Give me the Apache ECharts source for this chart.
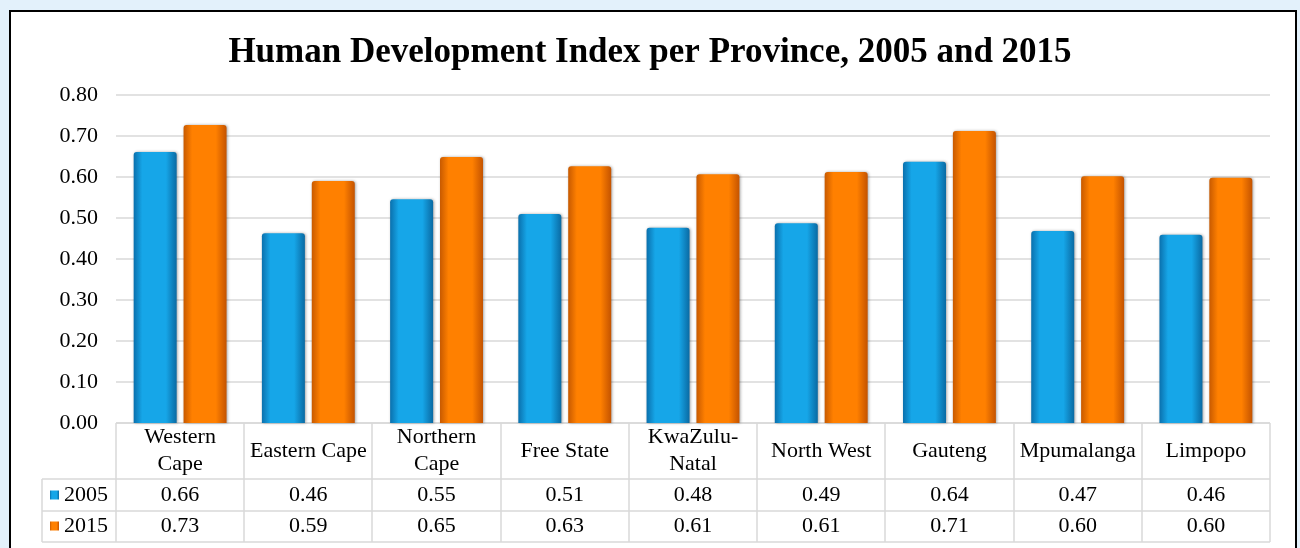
<!DOCTYPE html>
<html>
<head>
<meta charset="utf-8">
<script src="https://cdn.jsdelivr.net/npm/echarts@6/dist/echarts.min.js"></script>
<style>
  html, body { margin: 0; padding: 0; background: #e3f1fb; }
  #chart { width: 1300px; height: 548px; }
</style>
</head>
<body>
<div id="chart"></div>
<script>
// 数据
var provinces = ['Western\nCape', 'Eastern Cape', 'Northern\nCape', 'Free State', 'KwaZulu-\nNatal',
  'North West', 'Gauteng', 'Mpumalanga', 'Limpopo'];
var hdi2005 = [0.661, 0.463, 0.546, 0.51, 0.476, 0.487, 0.637, 0.468, 0.459];
var hdi2015 = [0.727, 0.590, 0.649, 0.626, 0.607, 0.612, 0.712, 0.602, 0.598];
var yTicks = [0, 0.1, 0.2, 0.3, 0.4, 0.5, 0.6, 0.7, 0.8];

var serif = 'Liberation Serif';
var gridL = 116, gridR = 1270, gridTop = 95, gridBot = 423;
var rowY = [423, 479, 511, 542];
var lineColor = '#d9d9d9';

function barGrad(c0, c1, c2) {
  return new echarts.graphic.LinearGradient(0, 0, 1, 0, [
    { offset: 0, color: c0 },
    { offset: 0.2, color: c1 },
    { offset: 0.75, color: c1 },
    { offset: 1, color: c2 }
  ]);
}

// 表格线
var tableLines = [];
tableLines.push({ type: 'line', shape: { x1: gridL, y1: rowY[0], x2: gridR, y2: rowY[0] } });
for (var r = 1; r < rowY.length; r++) {
  tableLines.push({ type: 'line', shape: { x1: 42, y1: rowY[r], x2: gridR, y2: rowY[r] } });
}
var cw = (gridR - gridL) / provinces.length;
for (var k = 0; k <= provinces.length; k++) {
  var x = Math.round(gridL + k * cw);
  tableLines.push({ type: 'line', shape: { x1: x, y1: rowY[0], x2: x, y2: rowY[3] } });
}
tableLines.push({ type: 'line', shape: { x1: 42, y1: rowY[1], x2: 42, y2: rowY[3] } });
tableLines.forEach(function (l) {
  l.style = { stroke: lineColor, lineWidth: 1.5 };
  l.z = 1;
  l.silent = true;
});

var labelFont = { fontFamily: serif, fontSize: 22, color: '#000' };

var chart = echarts.init(document.getElementById('chart'));
var option = {
  backgroundColor: 'transparent',
  animation: false,
  title: {
    text: 'Human Development Index per Province, 2005 and 2015',
    left: 'center',
    top: 30,
    textStyle: { fontFamily: serif, fontSize: 35, fontWeight: 'bold', color: '#000' }
  },
  legend: {
    data: ['2005', '2015'],
    orient: 'vertical',
    left: 50,
    top: 484,
    padding: 0,
    itemGap: 9,
    itemWidth: 9,
    itemHeight: 9,
    icon: 'rect',
    selectedMode: false,
    textStyle: { fontFamily: serif, fontSize: 22, color: '#000', lineHeight: 22 }
  },
  grid: { left: gridL, right: 1300 - gridR, top: gridTop, bottom: 548 - gridBot },
  graphic: [{
    type: 'rect',
    z: -10,
    shape: { x: 10, y: 11, width: 1286, height: 560 },
    style: { fill: '#fff', stroke: '#000', lineWidth: 2 }
  }].concat(tableLines),
  xAxis: [{
    type: 'category',
    data: provinces,
    axisLine: { show: false },
    axisTick: { show: false },
    axisLabel: Object.assign({ lineHeight: 27, margin: 28, verticalAlign: 'middle', interval: 0 }, labelFont)
  }, {
    type: 'category',
    data: provinces,
    position: 'bottom',
    axisLine: { show: false },
    axisTick: { show: false },
    axisLabel: Object.assign({
      margin: 72, verticalAlign: 'middle', interval: 0,
      formatter: function (v, i) { return hdi2005[i].toFixed(2); }
    }, labelFont)
  }, {
    type: 'category',
    data: provinces,
    position: 'bottom',
    axisLine: { show: false },
    axisTick: { show: false },
    axisLabel: Object.assign({
      margin: 103, verticalAlign: 'middle', interval: 0,
      formatter: function (v, i) { return hdi2015[i].toFixed(2); }
    }, labelFont)
  }],
  yAxis: {
    type: 'value',
    min: yTicks[0],
    max: yTicks[yTicks.length - 1],
    interval: 0.1,
    axisLine: { show: false },
    axisTick: { show: false },
    splitLine: { lineStyle: { color: lineColor, width: 1.5 } },
    axisLabel: Object.assign({
      margin: 18,
      formatter: function (v) { return v.toFixed(2); }
    }, labelFont)
  },
  series: [{
    name: '2005',
    type: 'bar',
    data: hdi2005,
    barWidth: 43,
    barGap: '16%',
    itemStyle: {
      color: barGrad('#0a70ad', '#16a6e8', '#0a6aa3'),
      borderRadius: [3, 3, 0, 0],
      shadowColor: 'rgba(0,0,0,0.35)', shadowBlur: 3, shadowOffsetX: 1
    }
  }, {
    name: '2015',
    type: 'bar',
    data: hdi2015,
    barWidth: 43,
    itemStyle: {
      color: barGrad('#c85a00', '#ff8000', '#c45300'),
      borderRadius: [3, 3, 0, 0],
      shadowColor: 'rgba(0,0,0,0.35)', shadowBlur: 3, shadowOffsetX: 1
    }
  }]
};
chart.setOption(option);
</script>
</body>
</html>
